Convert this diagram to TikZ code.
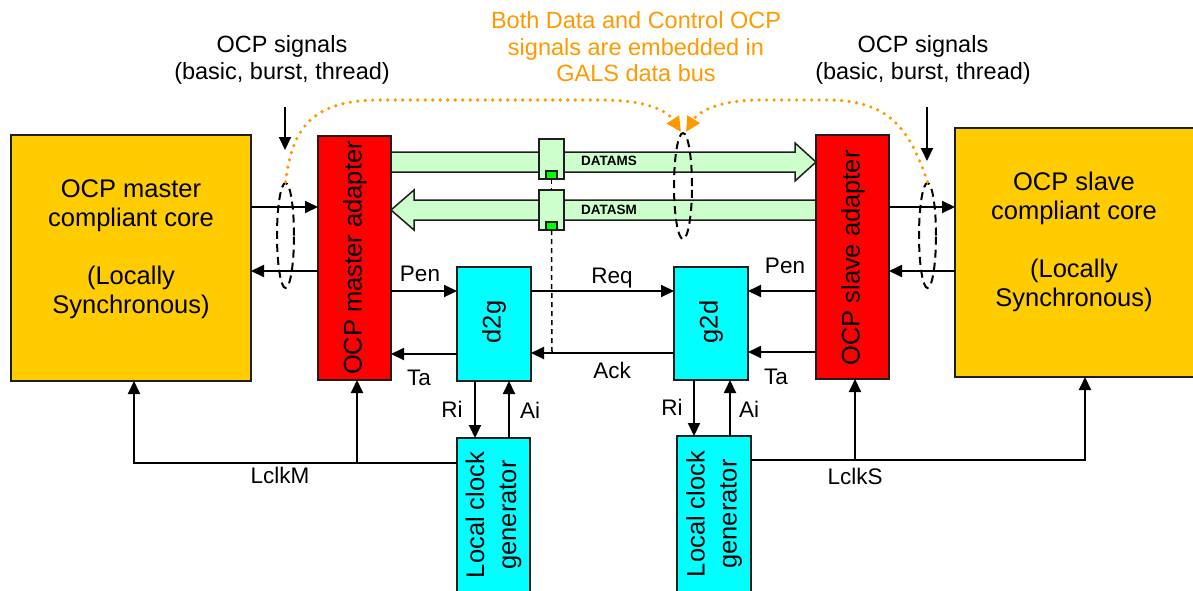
\documentclass[tikz,border=0pt]{standalone}
\usepackage{fontspec}
\setmainfont{Liberation Sans}
\usetikzlibrary{arrows.meta,shapes.geometric}
\definecolor{coreyellow}{RGB}{255,204,0}
\definecolor{adpred}{RGB}{255,0,0}
\definecolor{synccyan}{RGB}{0,255,255}
\definecolor{buspale}{RGB}{204,255,204}
\definecolor{latchgreen}{RGB}{0,255,0}
\definecolor{noteorange}{RGB}{255,153,0}
\definecolor{edgegray}{RGB}{30,30,30}
\pgfdeclarelayer{background}
\pgfsetlayers{background,main}
\begin{document}
\begin{tikzpicture}[x=1pt,y=-1pt,
  box/.style={draw=edgegray, line width=1.5pt, inner sep=0pt, outer sep=0pt},
  arr/.style={line width=2pt, -{Triangle[length=13pt,width=12pt]}},
  wire/.style={line width=2pt},
  lbl/.style={font=\fontsize{22.5}{27}\selectfont, inner sep=0pt, anchor=base},
  boxtxt/.style={font=\fontsize{25.5}{29}\selectfont, align=center, inner sep=0pt},
  note/.style={font=\fontsize{23.5}{26.5}\selectfont, align=center, inner sep=0pt},
  ring/.style={ellipse, draw, line width=2pt, dash pattern=on 8pt off 5pt, inner sep=0pt},
  dots/.style={noteorange, line width=3.6pt, line cap=round, dash pattern=on 0pt off 7.5pt},
  bus/.style={draw=edgegray, fill=buspale, line width=1.5pt, line join=miter},
  buslbl/.style={font=\fontsize{13.5}{15}\selectfont\bfseries, inner sep=0pt}]
\useasboundingbox (0,0) rectangle (1193,590);
\clip (0,0) rectangle (1193,590);

% cores
\node[box, fill=coreyellow, minimum width=240pt, minimum height=246pt] (mcore) at (131,258) {};
\node[box, fill=coreyellow, minimum width=241pt, minimum height=249pt] (score) at (1075.5,252.5) {};
\node[boxtxt] (mcoretxt) at (131,249) {OCP master\\compliant core\\[29pt](Locally\\Synchronous)};
\node[boxtxt] (scoretxt) at (1074,242) {OCP slave\\compliant core\\[29pt](Locally\\Synchronous)};

% adapters
\node[box, fill=adpred, minimum width=73pt, minimum height=244pt] (madp) at (354.5,258) {};
\node[box, fill=adpred, minimum width=73pt, minimum height=244pt] (sadp) at (852.5,257) {};
\node[boxtxt, rotate=90] (madptxt) at (355,258) {OCP master adapter};
\node[boxtxt, rotate=90] (sadptxt) at (853,258) {OCP slave adapter};

% synchronizers
\node[box, fill=synccyan, minimum width=74pt, minimum height=114pt] (d2g) at (494,324) {};
\node[box, fill=synccyan, minimum width=74pt, minimum height=113pt] (g2d) at (711,323.5) {};
\node[boxtxt, rotate=90] (d2gtxt) at (494,322) {d2g};
\node[boxtxt, rotate=90] (g2dtxt) at (711,322) {g2d};

% local clock generators
\node[box, fill=synccyan, minimum width=73pt, minimum height=154pt] (clkm) at (493.5,515) {};
\node[box, fill=synccyan, minimum width=74pt, minimum height=156pt] (clks) at (714,514) {};
\node[boxtxt, rotate=90, align=center] (clkmtxt) at (493.5,515) {Local clock\\[3pt]generator};
\node[boxtxt, rotate=90, align=center] (clkstxt) at (714,514) {Local clock\\[3pt]generator};

% GALS data bus
\begin{pgfonlayer}{background}
\draw[bus] (madp.east |- 0,152) -- (795,152) -- (795,143) -- (sadp.west |- 0,162)
  -- (795,181) -- (795,172) -- (madp.east |- 0,172) -- cycle;
\draw[bus] (sadp.west |- 0,200) -- (414,200) -- (414,190) -- (madp.east |- 0,210)
  -- (414,230) -- (414,220) -- (sadp.west |- 0,220) -- cycle;
\end{pgfonlayer}
\node[buslbl] (datams) at (609,161) {DATAMS};
\node[buslbl] (datasm) at (609,210) {DATASM};

% bus registers
\node[box, fill=buspale, minimum width=25pt, minimum height=40pt] (reg1) at (551.5,159) {};
\node[box, fill=buspale, minimum width=25pt, minimum height=40pt] (reg2) at (551.5,210) {};
\node[box, fill=latchgreen, minimum width=11pt, minimum height=8pt] (latch1) at (551.5,175) {};
\node[box, fill=latchgreen, minimum width=11pt, minimum height=8pt] (latch2) at (551.5,226) {};

% register enable from the handshake
\coordinate (ackjoin) at (552,353);
\draw[line width=1.5pt, dash pattern=on 5pt off 4pt] (reg1.south) -- (reg2.north);
\draw[line width=1.5pt, dash pattern=on 5pt off 4pt] (reg2.south) -- (ackjoin);

% core <-> adapter OCP signals
\draw[arr] (mcore.east |- 0,207) -- (madp.west |- 0,207);
\draw[arr] (madp.west |- 0,271) -- (mcore.east |- 0,271);
\draw[arr] (sadp.east |- 0,207) -- (score.west |- 0,207);
\draw[arr] (score.west |- 0,271) -- (sadp.east |- 0,271);

% bundles of OCP signals
\node[ring, minimum width=17pt, minimum height=105pt] (el1) at (285.5,235.5) {};
\node[ring, minimum width=17pt, minimum height=105pt] (el2) at (927.5,235.5) {};
\node[ring, minimum width=18pt, minimum height=106pt] (el3) at (683,186) {};

% OCP signal pointers
\coordinate (sigm) at (285,107);
\coordinate (sigs) at (927,107);
\draw[arr] (sigm) -- (285,150);
\draw[arr] (sigs) -- (927,161);
\node[note] (sigmtxt) at (282,60) {OCP signals\\(basic, burst, thread)};
\node[note] (sigstxt) at (923,60) {OCP signals\\(basic, burst, thread)};

% embedded signals note
\node[note, text=noteorange] (embtxt) at (636,47) {Both Data and Control OCP\\signals are embedded in\\GALS data bus};
\draw[dots, -{Triangle[length=15pt,width=14pt]}] (el1.north) .. controls (292,130) and (310,100) .. (380,100)
  -- (600,100) .. controls (650,100) and (668,112) .. (681,132);
\draw[dots, -{Triangle[length=15pt,width=14pt]}] (el2.north) .. controls (910,130) and (890,101) .. (830,100)
  -- (760,100) .. controls (718,100) and (698,112) .. (686,132);

% handshake
\draw[arr] (madp.east |- 0,291) -- (d2g.west |- 0,291);
\draw[arr] (d2g.west |- 0,354) -- (madp.east |- 0,354);
\draw[arr] (d2g.east |- 0,291) -- (g2d.west |- 0,291);
\draw[arr] (g2d.west |- 0,353) -- (d2g.east |- 0,353);
\draw[arr] (sadp.west |- 0,291) -- (g2d.east |- 0,291);
\draw[arr] (sadp.west |- 0,352) -- (g2d.east |- 0,352);
\node[lbl] (penm) at (420,281) {Pen};
\node[lbl] (tam) at (419,385) {Ta};
\node[lbl] (req) at (612,283) {Req};
\node[lbl] (ack) at (612,378) {Ack};
\node[lbl] (pens) at (785,273) {Pen};
\node[lbl] (tas) at (776,384) {Ta};

% clock generator handshake
\draw[arr] (d2g.south -| 475,0) -- (clkm.north -| 475,0);
\draw[arr] (clkm.north -| 509,0) -- (d2g.south -| 509,0);
\draw[arr] (g2d.south -| 694,0) -- (clks.north -| 694,0);
\draw[arr] (clks.north -| 730,0) -- (g2d.south -| 730,0);
\node[lbl] (rim) at (452,417) {Ri};
\node[lbl] (aim) at (530,418) {Ai};
\node[lbl] (ris) at (672,415) {Ri};
\node[lbl] (ais) at (749,417) {Ai};

% local clocks
\coordinate (lclkmj) at (357,463);
\coordinate (lclksj) at (855,460);
\draw[arr] (clkm.west |- 0,463) -| (mcore.south -| 134,0);
\draw[arr] (lclkmj) -- (madp.south -| 357,0);
\draw[arr] (clks.east |- 0,460) -| (score.south -| 1085,0);
\draw[arr] (lclksj) -- (sadp.south -| 855,0);
\node[lbl] (lclkm) at (280,483) {LclkM};
\node[lbl] (lclks) at (855,484) {LclkS};
\end{tikzpicture}
\end{document}
